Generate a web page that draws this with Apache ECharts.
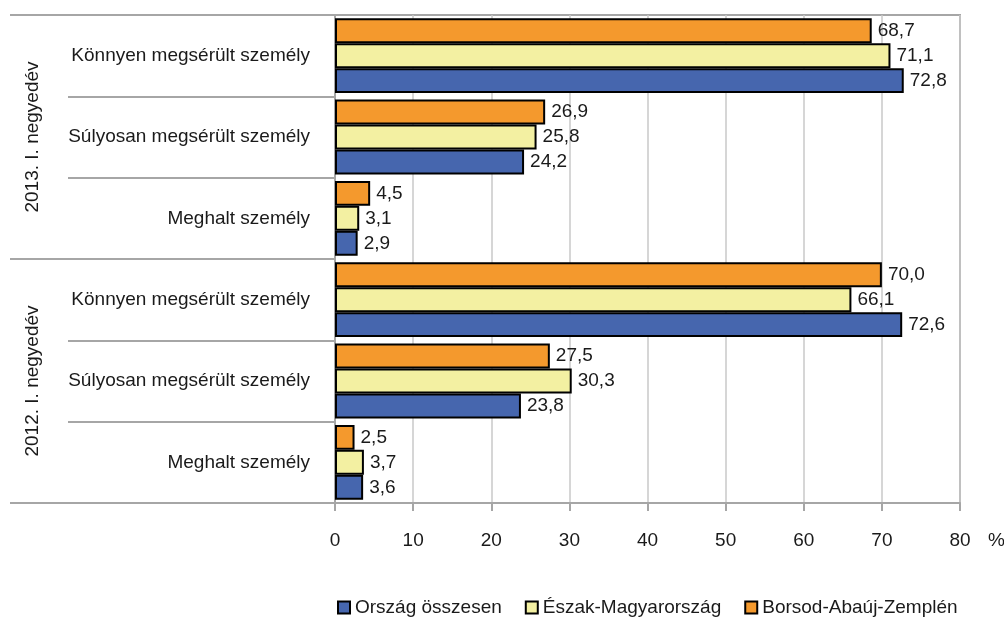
<!DOCTYPE html>
<html>
<head>
<meta charset="utf-8">
<script src="https://cdn.jsdelivr.net/npm/echarts@6/dist/echarts.min.js"></script>
<style>
html,body{margin:0;padding:0;background:#fff;}
#chart{width:1004px;height:623px;}
</style>
</head>
<body>
<div id="chart"></div>
<script>
// Categories listed bottom-to-top (ECharts category y axis starts at the bottom)
var categories = [
  'Meghalt személy', 'Súlyosan megsérült személy', 'Könnyen megsérült személy',
  'Meghalt személy', 'Súlyosan megsérült személy', 'Könnyen megsérült személy'
];
var groups = ['2012. I. negyedév', '2013. I. negyedév'];
var seriesNames = ['Ország összesen', 'Észak-Magyarország', 'Borsod-Abaúj-Zemplén'];
var orszag = [3.6, 23.8, 72.6, 2.9, 24.2, 72.8];
var eszak = [3.7, 30.3, 66.1, 3.1, 25.8, 71.1];
var borsod = [2.5, 27.5, 70.0, 4.5, 26.9, 68.7];
var xTicks = [0, 10, 20, 30, 40, 50, 60, 70, 80];

var FONT = "'Liberation Sans', Arial, sans-serif";
var FS = 19;
var GRAY = '#a6a6a6';
var TXT = '#1a1a1a';
var colors = ['#4666ae', '#f3f0a2', '#f4992d'];

function fmt(v) { return v.toFixed(1).replace('.', ','); }

function mkSeries(name, data, color) {
  return {
    name: name,
    type: 'bar',
    yAxisIndex: 0,
    data: data,
    barGap: '0%',
    barCategoryGap: '8%',
    itemStyle: { color: color, borderColor: '#000', borderWidth: 2 },
    label: {
      show: true, position: 'right', distance: 6,
      fontFamily: FONT, fontSize: FS, color: TXT,
      formatter: function (p) { return fmt(p.value); }
    }
  };
}

var chart = echarts.init(document.getElementById('chart'), null, { renderer: 'canvas' });
chart.setOption({
  animation: false,
  backgroundColor: '#fff',
  textStyle: { fontFamily: FONT },
  grid: {
    left: 335, right: 44, top: 15, bottom: 120,
    containLabel: false, outerBoundsMode: 'none',
    show: true, borderColor: GRAY, borderWidth: 2
  },
  legend: {
    left: 332, top: 593, width: 670,
    itemWidth: 12, itemHeight: 12, itemGap: 23,
    icon: 'rect',
    textStyle: { fontFamily: FONT, fontSize: FS, color: TXT },
    data: seriesNames
  },
  xAxis: {
    type: 'value', min: 0, max: 80, interval: 10,
    name: '%', nameLocation: 'end', nameGap: 28,
    nameTextStyle: { fontFamily: FONT, fontSize: FS, color: TXT, verticalAlign: 'top', padding: [28, 0, 0, 0] },
    axisLine: { show: true, lineStyle: { color: GRAY, width: 2 } },
    axisTick: { show: true, length: 8, lineStyle: { color: GRAY, width: 2 } },
    splitLine: { show: true, lineStyle: { color: '#c8c8c8', width: 1.5 } },
    axisLabel: {
      margin: 28, fontFamily: FONT, fontSize: FS, color: TXT,
      formatter: function (v) { return xTicks.indexOf(v) >= 0 ? String(v) : ''; }
    }
  },
  yAxis: [
    {
      type: 'category', data: categories, position: 'left',
      axisLine: { show: true, lineStyle: { color: GRAY, width: 2 } },
      axisTick: { show: true, length: 267, lineStyle: { color: GRAY, width: 2 } },
      axisLabel: { margin: 25, fontFamily: FONT, fontSize: FS, color: TXT },
      splitLine: { show: false }
    },
    {
      type: 'category', data: groups, position: 'left', offset: 0,
      axisLine: { show: false },
      axisTick: { show: true, length: 325, lineStyle: { color: GRAY, width: 2 } },
      axisLabel: { rotate: 90, margin: 293, fontFamily: FONT, fontSize: FS, color: TXT },
      splitLine: { show: false }
    }
  ],
  series: [
    // first series is drawn at the top of each category band
    mkSeries(seriesNames[2], borsod, colors[2]),
    mkSeries(seriesNames[1], eszak, colors[1]),
    mkSeries(seriesNames[0], orszag, colors[0])
  ]
});
</script>
</body>
</html>
